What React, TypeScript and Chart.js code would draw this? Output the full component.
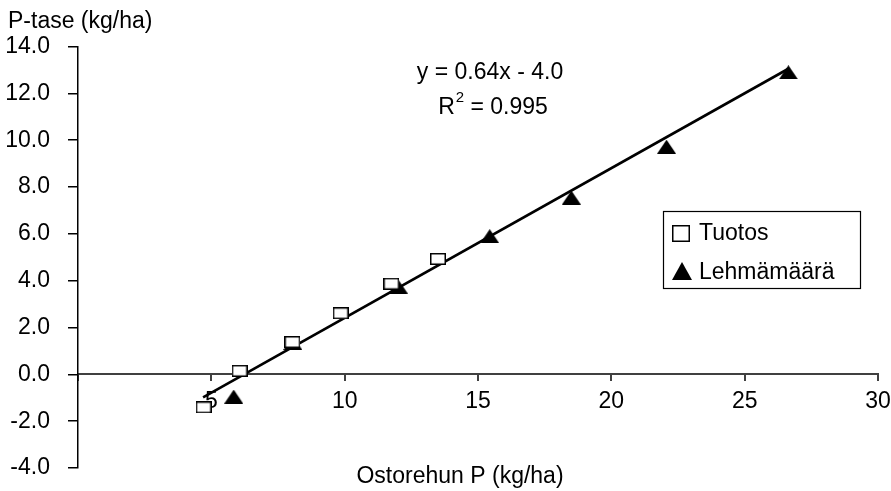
import React, { useEffect, useRef } from 'react';
import { Chart, registerables } from 'chart.js';

Chart.register(...registerables);

// ---- Data ----
const tuotosX = [4.71, 6.06, 8.04, 9.85, 11.75, 13.5];
const tuotosY = [-1.41, 0.15, 1.38, 2.61, 3.87, 4.93];

const lehmaX = [5.84, 8.06, 12.01, 15.44, 18.5, 22.07, 26.64];
const lehmaY = [-0.95, 1.34, 3.75, 5.9, 7.55, 9.72, 12.9];

// trendline end points as drawn
const trendX = [4.69, 26.64];
const trendY = [-0.98, 13.05];

const xTickValues = [0, 5, 10, 15, 20, 25, 30];
const yTickValues = [-4, -2, 0, 2, 4, 6, 8, 10, 12, 14];

const seriesNames = ['Tuotos', 'Lehmämäärä'];
const yAxisTitle = 'P-tase (kg/ha)';
const xAxisTitle = 'Ostorehun P (kg/ha)';
const equationText = 'y = 0.64x - 4.0';
const r2Text = ' = 0.995';

const FONT = '"Liberation Sans", Arial, Helvetica, sans-serif';
const FS = 23;

function makeSquare(w: number, h: number, lw: number) {
  const c = document.createElement('canvas');
  c.width = w;
  c.height = h;
  const ctx = c.getContext('2d')!;
  ctx.fillStyle = '#ffffff';
  ctx.fillRect(0, 0, w, h);
  ctx.strokeStyle = '#000000';
  ctx.lineWidth = lw;
  ctx.strokeRect(lw / 2, lw / 2, w - lw, h - lw);
  return c;
}

function makeTriangle(w: number, h: number) {
  const c = document.createElement('canvas');
  c.width = w;
  c.height = h;
  const ctx = c.getContext('2d')!;
  ctx.fillStyle = '#000000';
  ctx.beginPath();
  ctx.moveTo(0, h);
  ctx.lineTo(w / 2, 0);
  ctx.lineTo(w, h);
  ctx.closePath();
  ctx.fill();
  return c;
}

const zeroPadding = (s: any) => {
  s.paddingLeft = 0;
  s.paddingRight = 0;
  s.paddingTop = 0;
  s.paddingBottom = 0;
};

export default function App() {
  const canvasRef = useRef<HTMLCanvasElement | null>(null);

  useEffect(() => {
    const canvas = canvasRef.current;
    if (!canvas) return;

    const squareMarker = makeSquare(16, 12, 1.5);
    const triangleMarker = makeTriangle(19, 14);
    const squareLegend = makeSquare(18, 17, 1.5);
    const triangleLegend = makeTriangle(20, 18);

    const annotations = {
      id: 'annotations',
      afterDraw(chart: any) {
        const ctx: CanvasRenderingContext2D = chart.ctx;
        ctx.save();
        ctx.fillStyle = '#000';
        ctx.textBaseline = 'middle';
        ctx.font = `${FS}px ${FONT}`;

        // axis titles
        ctx.textAlign = 'left';
        ctx.fillText(yAxisTitle, 8, 22);
        ctx.textAlign = 'center';
        ctx.fillText(xAxisTitle, 460, 477);

        // equation
        ctx.fillText(equationText, 490, 73);
        ctx.textAlign = 'left';
        const wR = ctx.measureText('R').width;
        const w3 = ctx.measureText(r2Text).width;
        ctx.font = `15px ${FONT}`;
        const w2 = ctx.measureText('2').width;
        const total = wR + w2 + w3 + 1;
        let sx = 493 - total / 2;
        ctx.font = `${FS}px ${FONT}`;
        ctx.fillText('R', sx, 108);
        sx += wR;
        ctx.font = `15px ${FONT}`;
        ctx.fillText('2', sx + 1, 98);
        sx += w2 + 1;
        ctx.font = `${FS}px ${FONT}`;
        ctx.fillText(r2Text, sx, 108);

        // legend
        ctx.strokeStyle = '#000';
        ctx.lineWidth = 1.2;
        ctx.strokeRect(663.5, 211.5, 197, 77);
        ctx.drawImage(squareLegend, 672, 225);
        ctx.drawImage(triangleLegend, 672, 262);
        ctx.fillText(seriesNames[0], 699, 234);
        ctx.fillText(seriesNames[1], 699, 273);
        ctx.restore();
      },
    };

    const chart = new Chart(canvas, {
      type: 'scatter',
      data: {
        datasets: [
          {
            label: seriesNames[0],
            data: tuotosX.map((x, i) => ({ x, y: tuotosY[i] })),
            pointStyle: squareMarker as any,
            showLine: false,
          },
          {
            label: seriesNames[1],
            data: lehmaX.map((x, i) => ({ x, y: lehmaY[i] })),
            pointStyle: triangleMarker as any,
            showLine: false,
          },
          {
            label: 'trend',
            data: trendX.map((x, i) => ({ x, y: trendY[i] })),
            showLine: true,
            borderColor: '#000',
            borderWidth: 2.6,
            pointRadius: 0,
            pointHoverRadius: 0,
          },
        ],
      },
      options: {
        animation: false,
        responsive: false,
        devicePixelRatio: 1,
        layout: { padding: { left: 0, right: 13, top: 46.5, bottom: 23 } },
        plugins: {
          legend: { display: false },
          tooltip: { enabled: false },
          title: { display: false },
        },
        scales: {
          x: {
            type: 'linear',
            position: { y: 0 } as any,
            min: 0,
            max: 30,
            afterBuildTicks: (s: any) => {
              s.ticks = xTickValues.map((v) => ({ value: v }));
            },
            afterFit: zeroPadding,
            ticks: {
              callback: (v: any) => (Number(v) === 0 ? '' : String(v)),
              padding: 8,
              color: '#000',
              font: { size: FS, family: FONT },
              maxRotation: 0,
              autoSkip: false,
            },
            grid: { drawOnChartArea: false, tickLength: 6, color: '#404040', lineWidth: 2 },
            border: { color: '#404040', width: 2 },
          },
          y: {
            type: 'linear',
            min: -4,
            max: 14,
            afterBuildTicks: (s: any) => {
              s.ticks = yTickValues.map((v) => ({ value: v }));
            },
            afterFit: (s: any) => {
              s.width = 78;
              zeroPadding(s);
            },
            ticks: {
              callback: (v: any) => Number(v).toFixed(1),
              padding: 18,
              color: '#000',
              font: { size: FS, family: FONT },
            },
            grid: { drawOnChartArea: false, tickLength: 10, color: '#000', lineWidth: 1.5 },
            border: { color: '#000', width: 1.5 },
          },
        },
      },
      plugins: [annotations],
    });

    return () => {
      chart.destroy();
    };
  }, []);

  return (
    <div style={{ position: 'fixed', left: 0, top: 0, width: 891, height: 491, background: '#fff' }}>
      <canvas ref={canvasRef} width={891} height={491} style={{ display: 'block' }} />
    </div>
  );
}
